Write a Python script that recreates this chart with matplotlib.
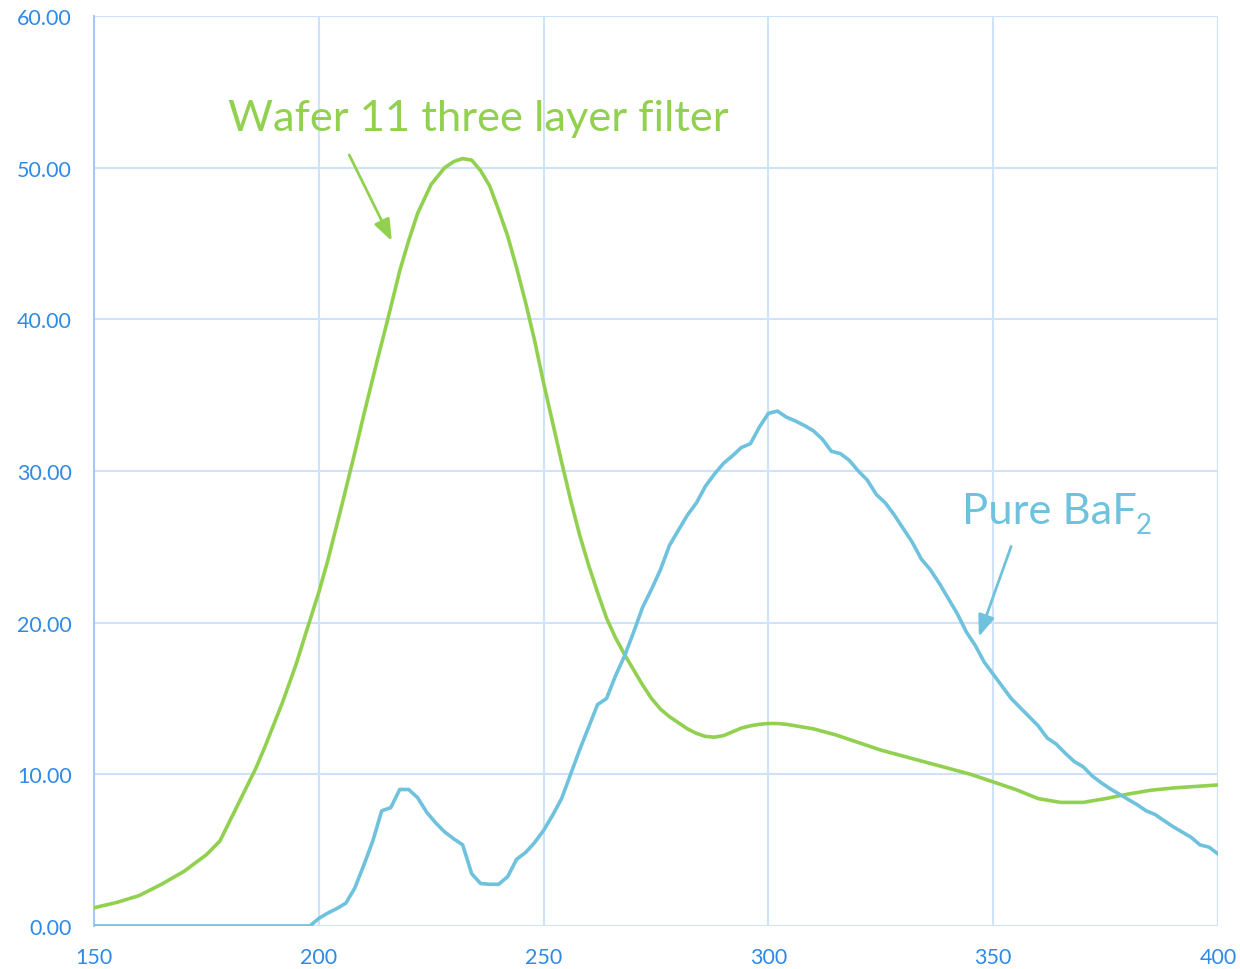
import numpy as np
import matplotlib
matplotlib.use("Agg")
import matplotlib.pyplot as plt

# transmissão (%) vs comprimento de onda (nm)
wafer_x = [150, 155, 160, 165, 170, 175, 178, 180, 183, 186, 188, 190, 192, 195, 197, 200,
           202, 205, 208, 210, 213, 215, 218, 220, 222, 225, 228, 230, 232, 234, 236, 238,
           240, 242, 244, 246, 248, 250, 252, 254, 256, 258, 260, 262, 264, 266, 268, 270,
           272, 274, 276, 278, 280, 282, 284, 286, 288, 290, 292, 294, 296, 298, 300, 302,
           304, 306, 310, 315, 320, 325, 330, 335, 340, 345, 350, 355, 360, 365, 370, 375,
           380, 385, 390, 395, 400]
wafer_y = [1.2, 1.55, 2.0, 2.75, 3.6, 4.7, 5.6, 6.8, 8.6, 10.4, 11.8, 13.3, 14.8, 17.3, 19.2, 22.0,
           24.1, 27.6, 31.2, 33.7, 37.3, 39.6, 43.2, 45.2, 47.0, 48.9, 50.0, 50.4, 50.6, 50.5, 49.8, 48.8,
           47.2, 45.5, 43.4, 41.1, 38.6, 35.8, 33.2, 30.6, 28.1, 25.8, 23.8, 22.0, 20.3, 19.0, 17.9, 16.9,
           15.9, 15.0, 14.3, 13.8, 13.4, 13.0, 12.7, 12.5, 12.45, 12.55, 12.8, 13.05, 13.2, 13.3, 13.35, 13.35,
           13.3, 13.2, 13.0, 12.6, 12.1, 11.6, 11.2, 10.8, 10.4, 10.0, 9.5, 9.0, 8.4, 8.15, 8.15, 8.4,
           8.7, 8.95, 9.1, 9.2, 9.3]

baf2_x = [150, 198, 200, 202, 204, 206, 208, 210, 212, 214, 216, 218, 220, 222, 224,
          226, 228, 230, 232, 234, 236, 238, 240, 242, 244, 246, 248, 250, 252, 254,
          256, 258, 260, 262, 264, 266, 268, 270, 272, 274, 276, 278, 280, 282, 284,
          286, 288, 290, 292, 294, 296, 298, 300, 302, 304, 306, 308, 310, 312, 314,
          316, 318, 320, 322, 324, 326, 328, 330, 332, 334, 336, 338, 340, 342, 344,
          346, 348, 350, 352, 354, 356, 358, 360, 362, 364, 366, 368, 370, 372, 374,
          376, 378, 380, 382, 384, 386, 388, 390, 392, 394, 396, 398, 400]
baf2_y = [0, 0, 0.5, 0.85, 1.15, 1.5, 2.5, 4.0, 5.6, 7.6, 7.8, 9.0, 9.0, 8.45, 7.5,
          6.8, 6.2, 5.75, 5.35, 3.45, 2.8, 2.75, 2.75, 3.25, 4.4, 4.85, 5.5, 6.3, 7.3, 8.4,
          10.0, 11.6, 13.1, 14.6, 15.0, 16.5, 17.8, 19.35, 21.0, 22.2, 23.5, 25.1, 26.1, 27.1, 27.9,
          29.0, 29.8, 30.5, 31.0, 31.55, 31.8, 32.9, 33.8, 33.95, 33.55, 33.3, 33.0, 32.65, 32.1, 31.3,
          31.15, 30.7, 30.0, 29.4, 28.45, 27.9, 27.1, 26.2, 25.3, 24.2, 23.5, 22.6, 21.6, 20.6, 19.4,
          18.5, 17.4, 16.6, 15.8, 15.0, 14.4, 13.8, 13.2, 12.4, 12.0, 11.4, 10.85, 10.5, 9.9, 9.45,
          9.05, 8.7, 8.35, 8.0, 7.6, 7.35, 6.95, 6.55, 6.2, 5.85, 5.35, 5.2, 4.75]

verde = '#92d050'
azul = '#6fc2dd'
cor_texto = '#2f8ae6'
cor_grade = '#cfe2f8'

plt.rcParams['font.family'] = ['Lato', 'DejaVu Sans']

fig = plt.figure(figsize=(12.4, 9.7), dpi=100)
ax = fig.add_axes([94 / 1240, 1 - 927 / 970, (1218 - 94) / 1240, (927 - 17) / 970])

ax.plot(wafer_x, wafer_y, color=verde, lw=2.6, solid_joinstyle='round', zorder=3)
ax.plot(baf2_x, baf2_y, color=azul, lw=2.6, solid_joinstyle='round', zorder=3)

ax.set_xlim(150, 400)
ax.set_ylim(0, 60)
ax.set_xticks(np.arange(150, 401, 50))
ax.set_yticks(np.arange(0, 61, 10))
ax.set_yticklabels([f'{v:.2f}' for v in np.arange(0, 61, 10)])
ax.grid(True, color=cor_grade, lw=1.5, zorder=0)
ax.set_axisbelow(True)
ax.tick_params(length=0, labelsize=15.5, labelcolor=cor_texto)
ax.tick_params(axis='y', pad=16)
ax.tick_params(axis='x', pad=15)
for lado in ['top', 'right', 'bottom']:
    ax.spines[lado].set_visible(False)
ax.spines['left'].set_color('#a8c8f2')
ax.spines['left'].set_linewidth(1.5)

# rótulos com setas
ax.text(179.8, 52.5, 'Wafer 11 three layer filter', color=verde, fontsize=31.3,
        va='baseline', ha='left')
ax.annotate('', xy=(216.5, 45.0), xytext=(206.5, 51.0),
            arrowprops=dict(arrowstyle='-|>,head_length=1.3,head_width=0.5',
                            color=verde, lw=2))
ax.text(343.1, 26.6, 'Pure BaF', color=azul, fontsize=31.3,
        va='baseline', ha='left')
ax.text(381.6, 25.9, '2', color=azul, fontsize=20, va='baseline', ha='left')
ax.annotate('', xy=(346.6, 18.9), xytext=(354.2, 25.2),
            arrowprops=dict(arrowstyle='-|>,head_length=1.3,head_width=0.5',
                            color=azul, lw=2))

fig.savefig('out.png', dpi=100)
